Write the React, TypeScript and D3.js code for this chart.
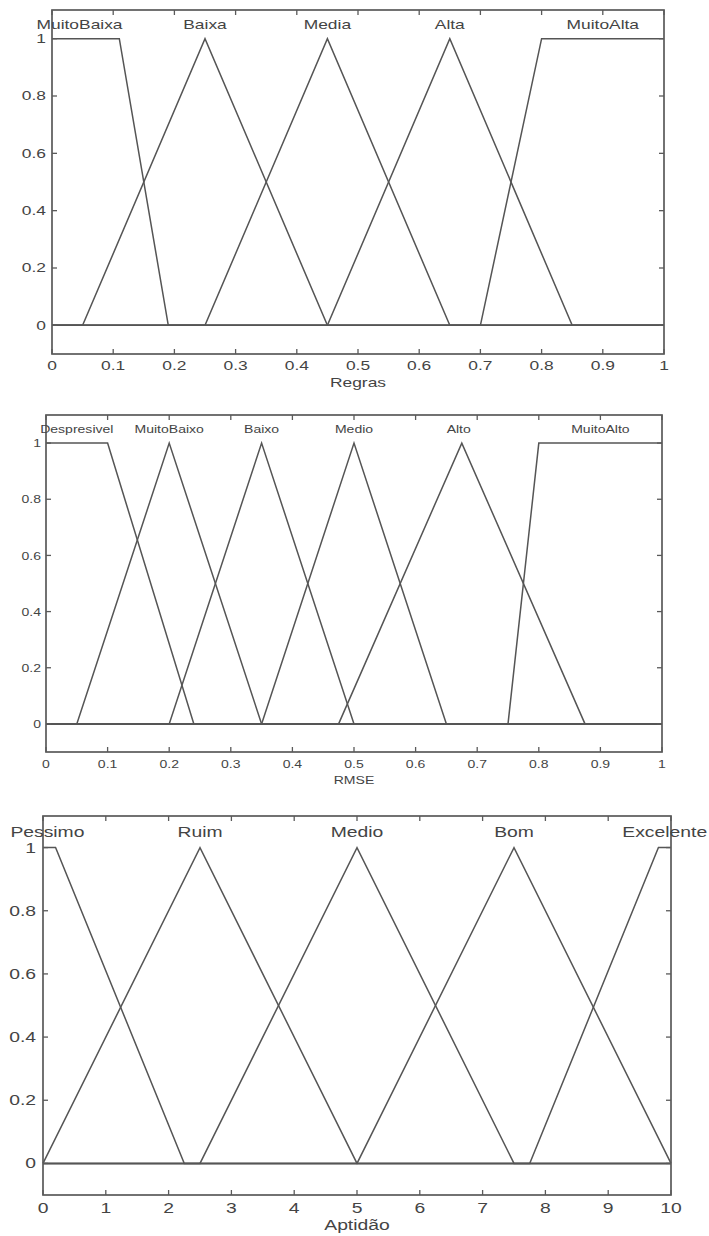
import React from "react";
import * as d3 from "d3";

// ---------- DATA ----------
// Panel 1: Regras
const regrasNames = ["MuitoBaixa", "Baixa", "Media", "Alta", "MuitoAlta"];
const regrasParams = [
  [0, 0, 0.11, 0.19],
  [0.05, 0.25, 0.25, 0.45],
  [0.25, 0.45, 0.45, 0.65],
  [0.45, 0.65, 0.65, 0.85],
  [0.7, 0.8, 1, 1],
];
const regrasLabelX = [0.045, 0.25, 0.45, 0.65, 0.9];
const regrasTicks = [0, 0.1, 0.2, 0.3, 0.4, 0.5, 0.6, 0.7, 0.8, 0.9, 1];

// Panel 2: RMSE
const rmseNames = ["Despresivel", "MuitoBaixo", "Baixo", "Medio", "Alto", "MuitoAlto"];
const rmseParams = [
  [0, 0, 0.1, 0.24],
  [0.05, 0.2, 0.2, 0.35],
  [0.2, 0.35, 0.35, 0.5],
  [0.35, 0.5, 0.5, 0.65],
  [0.475, 0.675, 0.675, 0.875],
  [0.75, 0.8, 1, 1],
];
const rmseLabelX = [0.05, 0.2, 0.35, 0.5, 0.67, 0.9];
const rmseTicks = [0, 0.1, 0.2, 0.3, 0.4, 0.5, 0.6, 0.7, 0.8, 0.9, 1];

// Panel 3: Aptidão
const aptNames = ["Pessimo", "Ruim", "Medio", "Bom", "Excelente"];
const aptParams = [
  [0, 0, 0.2, 2.25],
  [0, 2.5, 2.5, 5],
  [2.5, 5, 5, 7.5],
  [5, 7.5, 7.5, 10],
  [7.75, 9.8, 10, 10],
];
const aptLabelX = [0.07, 2.5, 5, 7.5, 9.9];
const aptTicks = [0, 1, 2, 3, 4, 5, 6, 7, 8, 9, 10];

const yTicks = [0, 0.2, 0.4, 0.6, 0.8, 1];

// ---------- LAYOUT ----------
type Panel = {
  names: string[];
  params: number[][];
  labelX: number[];
  xTicks: number[];
  domain: [number, number];
  title: string;
  x0: number; x1: number; yTop: number; yBot: number;
  fs: number; sx: number;
  yLabelGap: number; xLabelBase: number; titleBase: number;
};

const panels: Panel[] = [
  {
    names: regrasNames, params: regrasParams, labelX: regrasLabelX, xTicks: regrasTicks,
    domain: [0, 1], title: "Regras",
    x0: 52, x1: 664, yTop: 10, yBot: 354, fs: 12, sx: 1.45,
    yLabelGap: 6, xLabelBase: 370, titleBase: 387,
  },
  {
    names: rmseNames, params: rmseParams, labelX: rmseLabelX, xTicks: rmseTicks,
    domain: [0, 1], title: "RMSE",
    x0: 46, x1: 662, yTop: 415, yBot: 752, fs: 11.5, sx: 1.22,
    yLabelGap: 5, xLabelBase: 768, titleBase: 784,
  },
  {
    names: aptNames, params: aptParams, labelX: aptLabelX, xTicks: aptTicks,
    domain: [0, 10], title: "Aptidão",
    x0: 43, x1: 671, yTop: 816, yBot: 1195, fs: 14, sx: 1.38,
    yLabelGap: 7, xLabelBase: 1213, titleBase: 1230,
  },
];

const TEXT = "#444";
const LINE = "#555";
const FONT = "'Liberation Sans', Arial, sans-serif";

function mfPoints(p: number[], dom: [number, number]): [number, number][] {
  const [a, b, c, d] = p;
  const pts: [number, number][] = [];
  if (a > dom[0]) pts.push([dom[0], 0]);
  if (b > a || a > dom[0]) pts.push([a, 0]);
  pts.push([b, 1]);
  pts.push([c, 1]);
  if (d > c) pts.push([d, 0]);
  if (d < dom[1]) pts.push([dom[1], 0]);
  return pts;
}

function STxt(props: { x: number; y: number; sx: number; fs: number; anchor: string; children: React.ReactNode }) {
  return (
    <text
      transform={`translate(${props.x},${props.y}) scale(${props.sx},1)`}
      textAnchor={props.anchor as any}
      fontSize={props.fs}
      fontFamily={FONT}
      fill={TEXT}
    >
      {props.children}
    </text>
  );
}

function PanelView({ p }: { p: Panel }) {
  const x = d3.scaleLinear().domain(p.domain).range([p.x0, p.x1]);
  const y = d3.scaleLinear().domain([-0.1, 1.1]).range([p.yBot, p.yTop]);
  const line = d3.line<[number, number]>().x((d) => x(d[0])).y((d) => y(d[1]));
  const tl = 5;
  const fmt = (v: number) => String(v);
  return (
    <g>
      {p.params.map((pr, i) => (
        <path key={i} d={line(mfPoints(pr, p.domain)) || ""} fill="none" stroke={LINE} strokeWidth={1.5} />
      ))}
      <rect x={p.x0} y={p.yTop} width={p.x1 - p.x0} height={p.yBot - p.yTop} fill="none" stroke="#5a5a5a" strokeWidth={1.7} />
      {p.xTicks.map((t, i) => (
        <g key={"xt" + i}>
          <line x1={x(t)} x2={x(t)} y1={p.yBot} y2={p.yBot - tl} stroke="#5a5a5a" strokeWidth={1.3} />
          <line x1={x(t)} x2={x(t)} y1={p.yTop} y2={p.yTop + tl} stroke="#5a5a5a" strokeWidth={1.3} />
          <STxt x={x(t)} y={p.xLabelBase} sx={p.sx} fs={p.fs} anchor="middle">{fmt(t)}</STxt>
        </g>
      ))}
      {yTicks.map((t, i) => (
        <g key={"yt" + i}>
          <line x1={p.x0} x2={p.x0 + tl} y1={y(t)} y2={y(t)} stroke="#5a5a5a" strokeWidth={1.3} />
          <line x1={p.x1} x2={p.x1 - tl} y1={y(t)} y2={y(t)} stroke="#5a5a5a" strokeWidth={1.3} />
          <STxt x={p.x0 - p.yLabelGap} y={y(t) + p.fs * 0.36} sx={p.sx} fs={p.fs} anchor="end">{fmt(t)}</STxt>
        </g>
      ))}
      {p.names.map((n, i) => (
        <STxt key={"n" + i} x={x(p.labelX[i])} y={y(1.05) + p.fs * 0.36} sx={p.sx} fs={p.fs} anchor="middle">{n}</STxt>
      ))}
      <STxt x={(p.x0 + p.x1) / 2} y={p.titleBase} sx={p.sx} fs={p.fs} anchor="middle">{p.title}</STxt>
    </g>
  );
}

export default function App() {
  return (
    <svg width={709} height={1236} style={{ position: "absolute", left: 0, top: 0, background: "#fff" }}>
      <rect x={0} y={0} width={709} height={1236} fill="#fff" />
      {panels.map((p, i) => (
        <PanelView key={i} p={p} />
      ))}
    </svg>
  );
}
